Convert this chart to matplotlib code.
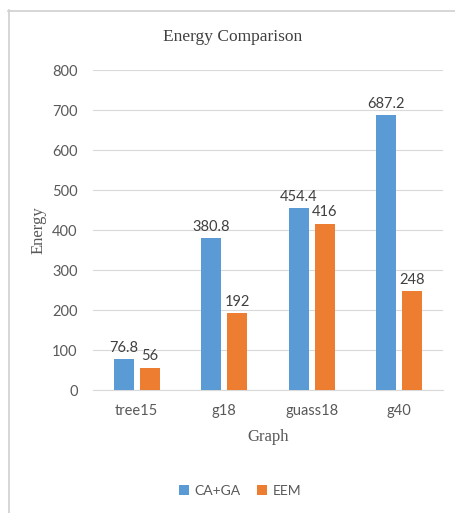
import matplotlib
matplotlib.use("Agg")
import matplotlib.pyplot as plt
from matplotlib.lines import Line2D
import numpy as np

categories = ["tree15", "g18", "guass18", "g40"]
ca_ga = [76.8, 380.8, 454.4, 687.2]
eem = [56, 192, 416, 248]
series_names = ["CA+GA", "EEM"]
yticks = [0, 100, 200, 300, 400, 500, 600, 700, 800]

BLUE = "#5B9BD5"
ORANGE = "#ED7D31"
TEXT = "#595959"
GRID = "#D9D9D9"
SANS = ["Lato", "DejaVu Sans"]
SERIF = ["Liberation Serif", "DejaVu Serif"]

W, H = 455, 513
fig = plt.figure(figsize=(W / 100, H / 100), dpi=100)
ax = fig.add_axes([93 / W, 1 - 390 / H, 350 / W, 320 / H])

x = np.arange(len(categories))
bw = 0.23
off = 0.15
b1 = ax.bar(x - off, ca_ga, bw, color=BLUE, label=series_names[0], zorder=3)
b2 = ax.bar(x + off, eem, bw, color=ORANGE, label=series_names[1], zorder=3)

for bars, vals in ((b1, ca_ga), (b2, eem)):
    for rect, v in zip(bars, vals):
        ax.annotate(f"{v:g}", (rect.get_x() + rect.get_width() / 2, v),
                    xytext=(0, 3), textcoords="offset points",
                    ha="center", va="bottom", fontsize=10.5, color="#404040",
                    family=SANS, zorder=4)

ax.set_xlim(-0.5, len(categories) - 0.5)
ax.set_ylim(0, 800)
ax.set_yticks(yticks)
ax.set_xticks(x)
ax.set_xticklabels(categories)
ax.yaxis.grid(True, color=GRID, linewidth=0.8, zorder=0)
for s in ("top", "right", "left"):
    ax.spines[s].set_visible(False)
ax.spines["bottom"].set_color(GRID)
ax.spines["bottom"].set_linewidth(0.8)
ax.tick_params(axis="both", length=0, labelsize=10.5, labelcolor=TEXT)
ax.tick_params(axis="y", pad=11)
ax.tick_params(axis="x", pad=10)
for lbl in ax.get_xticklabels() + ax.get_yticklabels():
    lbl.set_family(SANS)

ax.set_ylabel("Energy", family=SERIF, fontsize=12, color=TEXT, labelpad=4)
ax.set_xlabel("Graph", family=SERIF, fontsize=12, color=TEXT, labelpad=8)
fig.text(233 / W, 1 - 37 / H, "Energy Comparison", family=SERIF,
         fontsize=12.5, color="#404040", ha="center", va="center")

leg = fig.legend(handles=[b1, b2], labels=series_names, loc="center",
                 bbox_to_anchor=(240 / W, 1 - 491 / H), ncol=2, frameon=False,
                 prop={"family": SANS, "size": 10}, handlelength=0.7,
                 handleheight=0.7, handletextpad=0.4, columnspacing=1.2)
for t in leg.get_texts():
    t.set_color(TEXT)

# chart area outline (top and left edges)
fig.add_artist(Line2D([8 / W, 1], [1 - 10.5 / H] * 2, transform=fig.transFigure,
                      color="#D0D0D0", linewidth=1.2))
fig.add_artist(Line2D([8.5 / W] * 2, [0, 1 - 10 / H], transform=fig.transFigure,
                      color="#D0D0D0", linewidth=1.2))

fig.savefig("out.png", dpi=100)
